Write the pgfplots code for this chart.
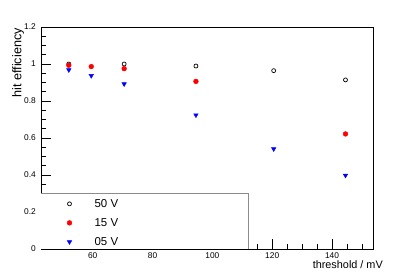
\documentclass[border=0pt]{standalone}
\usepackage{fontspec}
\setmainfont{Liberation Sans}
\usepackage{pgfplots}
\pgfplotsset{compat=1.18}
\definecolor{leggray}{HTML}{8C8C8C}
\begin{document}
\begin{tikzpicture}
\useasboundingbox (-41bp,-28bp) rectangle (374bp,249bp);
\begin{axis}[
  at={(0,0)}, anchor=south west,
  scale only axis, width=332bp, height=222bp,
  xmin=42.7, xmax=153.7, ymin=0, ymax=1.2,
  xtick={60,80,100,120,140},
  minor xtick={45,50,55,65,70,75,85,90,95,105,110,115,125,130,135,145,150},
  ytick={0,0.2,0.4,0.6,0.8,1,1.2},
  minor ytick={0.05,0.1,0.15,0.25,0.3,0.35,0.45,0.5,0.55,0.65,0.7,0.75,0.85,0.9,0.95,1.05,1.1,1.15},
  tick pos=left, tick align=inside,
  major tick length=10bp, minor tick length=5bp,
  axis line style={black, line width=0.8bp},
  every tick/.style={black, line width=0.6bp},
  ticklabel style={font=\fontsize{8.4}{10}\selectfont, inner sep=0pt},
  /pgf/number format/assume math mode=true,
  yticklabel shift=5bp, xticklabel shift=3bp,
  xlabel={threshold / mV}, ylabel={hit efficiency},
  xlabel style={at={(rel axis cs:1.0301,-0.0856)}, anchor=base east, inner sep=0pt, font=\fontsize{10.9}{12}\selectfont},
  ylabel style={at={(rel axis cs:-0.0873,0.9955)}, anchor=north east, inner sep=0pt, font=\fontsize{12.7}{14}\selectfont},
  legend style={draw=none, fill=none, at={(rel axis cs:0.078,0.2257)}, anchor=north west,
    inner sep=0pt, nodes={inner sep=0pt}, column sep=22.7bp, row sep=9.6bp,
    font=\fontsize{11.5}{13}\selectfont},
  legend cell align=left,
]
\addplot[only marks, mark=o, mark size=2bp, mark options={black, line width=0.7bp}] coordinates {
(52,1.0) (70.5,1.0) (94.5,0.989) (120.5,0.964) (144.5,0.914)};
\addlegendentry{50 V}
\addplot[only marks, mark=*, mark size=2.4bp, color=red] coordinates {
(52,0.993) (59.5,0.986) (70.5,0.975) (94.5,0.906) (144.5,0.622)};
\addlegendentry{15 V}
\addplot[only marks, mark=triangle*, mark size=2.6bp, color=blue, mark options={rotate=180}] coordinates {
(52,0.968) (59.5,0.937) (70.5,0.892) (94.5,0.724) (120.5,0.541) (144.5,0.398)};
\addlegendentry{05 V}
\fill[white] (axis cs:42.85,0.0027) rectangle (axis cs:112,0.299);
\draw[leggray, line width=0.8bp] (axis cs:42.7,0.299) -- (axis cs:112,0.299) -- (axis cs:112,0);
\end{axis}
\end{tikzpicture}
\end{document}
